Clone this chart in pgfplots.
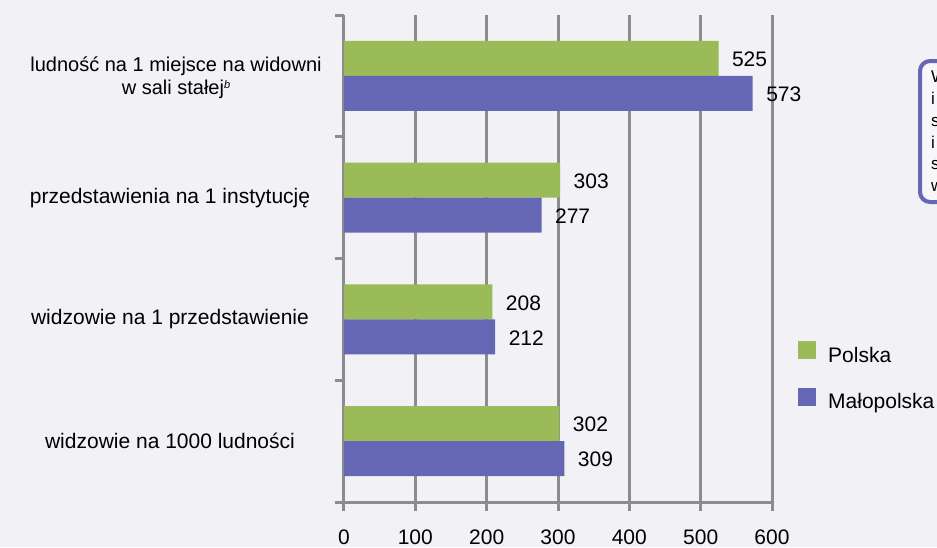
\documentclass[border=0pt]{standalone}
\usepackage{fontspec}
\setmainfont{Liberation Sans}
\usepackage{pgfplots}
\pgfplotsset{compat=1.18}
\definecolor{bg}{HTML}{F1F1F6}
\definecolor{pl}{HTML}{9BBB59}
\definecolor{mp}{HTML}{6667B4}
\definecolor{axgray}{HTML}{8C8C8C}
\newcommand{\f}{\fontsize{21}{25}\selectfont}

\begin{document}
\begin{tikzpicture}[x=1pt,y=1pt]
\clip (0,0) rectangle (937,-547);
\fill[bg] (0,0) rectangle (937,-547);
\begin{axis}[at={(344pt,-502pt)}, anchor=south west,
  scale only axis, width=428pt, height=487pt, clip=false,
  xmin=0, xmax=600, ymin=-0.5, ymax=3.5,
  axis x line*=bottom, axis y line*=left,
  axis line style={draw=axgray, line width=3pt},
  xtick={0,100,...,600}, ytick={-0.5,0.5,1.5,2.5,3.5}, yticklabels={},
  tick align=outside, major tick length=9pt,
  tick style={draw=axgray, line width=3pt},
  xmajorgrids, grid style={draw=axgray, line width=3pt},
  /pgf/number format/assume math mode=true,
  tick label style={font=\f},
  xticklabel style={yshift=-15pt},
  xbar, bar width=0.2875,
  nodes near coords, nodes near coords style={font=\f, anchor=west, xshift=10pt, yshift=-1pt, text=black},
  legend style={draw=none, fill=none, at={(1.0607,0.3306)}, anchor=north west,
    font=\f, row sep=22pt, inner sep=0pt, cells={anchor=west},
    /tikz/every odd column/.append style={column sep=10pt}},
  legend image code/.code={\fill[#1] (0pt,-4pt) rectangle (18pt,14pt);},
]
\addplot[draw=none, fill=pl, bar shift=0.14375] coordinates {(302,0) (208,1) (303,2) (525,3)};
\addlegendentry{Polska}
\addplot[draw=none, fill=mp, bar shift=-0.14375] coordinates {(309,0) (212,1) (277,2) (573,3)};
\addlegendentry{Małopolska}

\node[font=\fontsize{20}{23}\selectfont, align=center] at ([xshift=-168pt,yshift=-2pt]axis cs:0,3) {ludność na 1 miejsce na widowni\\w sali stałej\raisebox{6pt}{\fontsize{11}{11}\selectfont\textit{b}}};
\node[font=\f] at ([xshift=-174pt]axis cs:0,2) {przedstawienia na 1 instytucję};
\node[font=\f] at ([xshift=-174pt]axis cs:0,1) {widzowie na 1 przedstawienie};
\node[font=\f] at ([xshift=-174pt]axis cs:0,0) {widzowie na 1000 ludności};
\end{axis}
\draw[draw=mp, line width=4pt, rounded corners=10pt, fill=bg!60!white] (920,-61) rectangle (1010,-202);
\node[anchor=north west, align=left, inner sep=0pt, font=\fontsize{17}{21.7}\selectfont] at (931,-71) {W\\i\\s\\i\\s\\w};
\end{tikzpicture}
\end{document}
